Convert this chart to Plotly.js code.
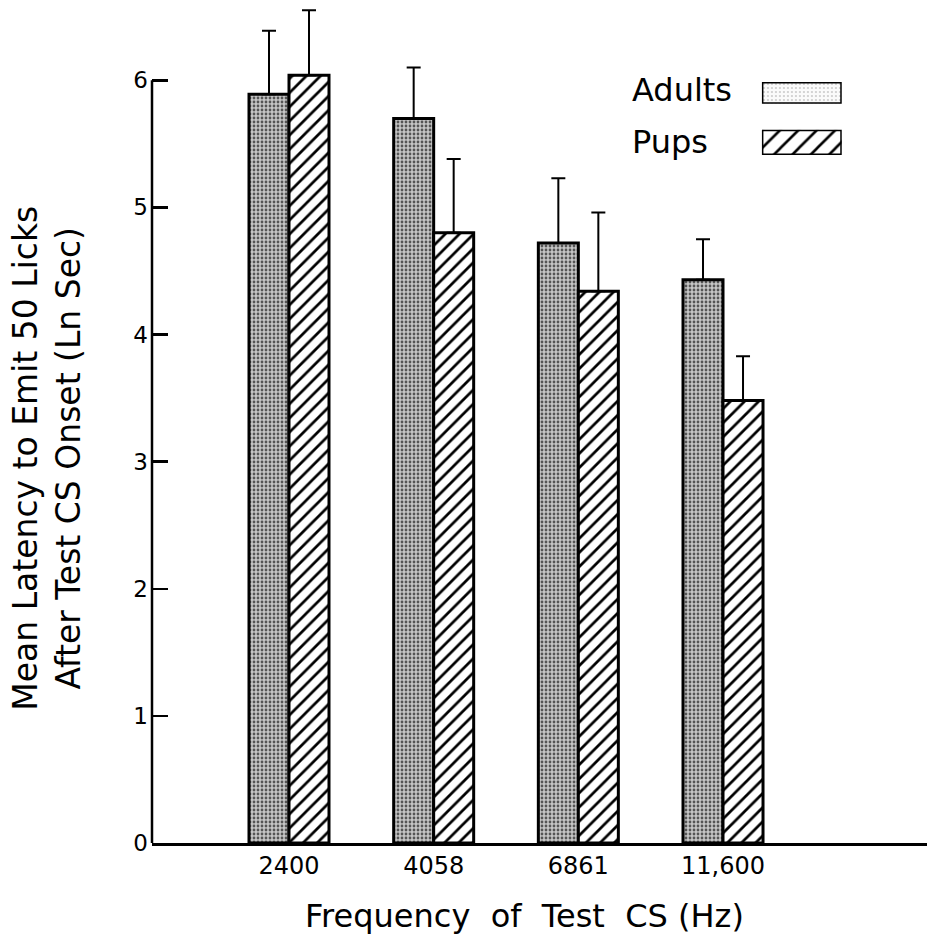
<!DOCTYPE html>
<html>
<head>
<meta charset="utf-8">
<script src="https://cdn.plot.ly/plotly-3.0.1.min.js"></script>
<style>
  html, body { margin: 0; padding: 0; background: #ffffff; }
  #chart { width: 927px; height: 936px; }
</style>
</head>
<body>
<div id="chart"></div>
<script>
// ---- data ----
const categories = ["2400", "4058", "6861", "11,600"];
const adultsMean = [5.89, 5.70, 4.72, 4.43];
const adultsSEM  = [0.50, 0.40, 0.51, 0.32];
const pupsMean   = [6.04, 4.80, 4.34, 3.48];
const pupsSEM    = [0.51, 0.58, 0.62, 0.35];
const seriesNames = ["Adults", "Pups"];
const yTickVals = [0, 1, 2, 3, 4, 5, 6];
const yTickText = ["0", "1", "2", "3", "4", "5", "6"];
const xTitle = "Frequency&nbsp; of&nbsp; Test&nbsp; CS (Hz)";
const yTitleLine1 = "Mean Latency to Emit 50 Licks";
const yTitleLine2 = "After Test CS Onset (Ln Sec)";

const FONT = "DejaVu Sans";
const zeros = categories.map(() => 0);

const adultsPattern = { shape: ".", bgcolor: "#c6c6c6", fgcolor: "#555555", size: 4, solidity: 0.38 };
const pupsPattern = { shape: "/", bgcolor: "#ffffff", fgcolor: "#000000", size: 10, solidity: 0.27 };

const traces = [
  {
    type: "bar", name: seriesNames[0], x: categories, y: adultsMean,
    marker: { color: "#c6c6c6", pattern: adultsPattern, line: { color: "#000", width: 3 } },
    error_y: { type: "data", symmetric: false, array: adultsSEM, arrayminus: zeros,
               color: "#000", thickness: 2, width: 7 },
    showlegend: false, hoverinfo: "skip"
  },
  {
    type: "bar", name: seriesNames[1], x: categories, y: pupsMean,
    marker: { color: "#ffffff", pattern: pupsPattern, line: { color: "#000", width: 3 } },
    error_y: { type: "data", symmetric: false, array: pupsSEM, arrayminus: zeros,
               color: "#000", thickness: 2, width: 7 },
    showlegend: false, hoverinfo: "skip"
  },
  // legend key boxes, each on its own small overlay axis
  {
    type: "bar", orientation: "h", xaxis: "x2", yaxis: "y2",
    y: [0.5], x: [1], base: [0], width: [1],
    marker: {
      color: "#fafafa",
      pattern: { shape: ".", bgcolor: "#fbfbfb", fgcolor: "#c8c8c8", size: 4, solidity: 0.2 },
      line: { color: "#000", width: 3 }
    },
    showlegend: false, hoverinfo: "skip"
  },
  {
    type: "bar", orientation: "h", xaxis: "x3", yaxis: "y3",
    y: [0.5], x: [1], base: [0], width: [1],
    marker: {
      color: "#ffffff",
      pattern: { shape: "/", bgcolor: "#ffffff", fgcolor: "#000000", size: 13, solidity: 0.2 },
      line: { color: "#000", width: 3 }
    },
    showlegend: false, hoverinfo: "skip"
  }
];

const layout = {
  width: 927, height: 936,
  margin: { l: 152, r: 0, t: 4, b: 93 },
  paper_bgcolor: "#ffffff", plot_bgcolor: "#ffffff",
  font: { family: FONT, color: "#000" },
  showlegend: false,
  barmode: "group", bargap: 0.447, bargroupgap: 0,
  xaxis: {
    type: "category", range: [-0.947, 4.41],
    showline: true, linecolor: "#000", linewidth: 2.5,
    ticks: "", showgrid: false, zeroline: false,
    tickfont: { family: FONT, size: 24, color: "#000" },
    ticklabelstandoff: 0, fixedrange: true
  },
  yaxis: {
    range: [0, 6.6], tickvals: yTickVals, ticktext: yTickText,
    ticks: "inside", ticklen: 16, tickwidth: 2.5, tickcolor: "#000",
    showline: false, showgrid: false, zeroline: false,
    tickfont: { family: FONT, size: 23, color: "#000" },
    ticklabelstandoff: 3, fixedrange: true
  },
  xaxis2: { domain: [0.787, 0.890], range: [0, 1], anchor: "y2", visible: false, fixedrange: true },
  yaxis2: { domain: [0.881, 0.907], range: [0, 1], anchor: "x2", visible: false, fixedrange: true },
  xaxis3: { domain: [0.787, 0.890], range: [0, 1], anchor: "y3", visible: false, fixedrange: true },
  yaxis3: { domain: [0.820, 0.850], range: [0, 1], anchor: "x3", visible: false, fixedrange: true },
  shapes: [
    { type: "line", xref: "paper", yref: "y", x0: 0, x1: 0, y0: 0, y1: 6,
      line: { color: "#000", width: 2.5 } }
  ],
  annotations: [
    { text: yTitleLine1 + "<br>" + yTitleLine2, textangle: -90, xref: "paper", yref: "paper",
      x: 0, y: 0.458, xshift: -105, xanchor: "center", yanchor: "middle", showarrow: false,
      align: "center", font: { family: FONT, size: 33, color: "#000" } },
    { text: xTitle, xref: "paper", yref: "paper", x: 0.48, y: -0.087,
      xanchor: "center", yanchor: "middle", showarrow: false,
      font: { family: FONT, size: 32, color: "#000" } },
    { text: seriesNames[0], xref: "paper", yref: "paper", x: 0.617, y: 0.8975,
      xanchor: "left", yanchor: "middle", showarrow: false,
      font: { family: FONT, size: 32, color: "#000" } },
    { text: seriesNames[1], xref: "paper", yref: "paper", x: 0.617, y: 0.8355,
      xanchor: "left", yanchor: "middle", showarrow: false,
      font: { family: FONT, size: 32, color: "#000" } }
  ]
};

Plotly.newPlot("chart", traces, layout, { staticPlot: true, displayModeBar: false });
</script>
</body>
</html>
